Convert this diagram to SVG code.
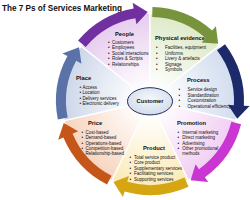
<svg xmlns="http://www.w3.org/2000/svg" xmlns:xlink="http://www.w3.org/1999/xlink" width="250" height="200" viewBox="0 0 250 200">
<style>
.t{font-family:"Liberation Sans",Arial,sans-serif;fill:#111}
.h{font-size:5.8px;font-weight:bold}
.b{font-size:4.5px}
.sec{stroke:#fff;stroke-width:1.3}
</style>
<defs>
<path id="wedge" d="M0 0 L88 0 A88 88 0 0 1 54.87 68.80 Z"/>
<path id="arr" d="M93.97 2.46 A94 94 0 0 1 70.51 62.16 L74.76 65.91 L57.21 68.18 L58.51 51.58 L63.01 55.55 A84 84 0 0 0 83.97 2.20 Z"/>
<radialGradient id="gPe" cx="0" cy="0" r="88" gradientUnits="userSpaceOnUse"><stop offset="0.15" stop-color="#fff"/><stop offset="1" stop-color="#e6cbee"/></radialGradient>
<radialGradient id="gPh" cx="0" cy="0" r="88" gradientUnits="userSpaceOnUse"><stop offset="0.15" stop-color="#fff"/><stop offset="1" stop-color="#dde9c7"/></radialGradient>
<radialGradient id="gPr" cx="0" cy="0" r="88" gradientUnits="userSpaceOnUse"><stop offset="0.15" stop-color="#fff"/><stop offset="1" stop-color="#d1dcee"/></radialGradient>
<radialGradient id="gPm" cx="0" cy="0" r="88" gradientUnits="userSpaceOnUse"><stop offset="0.15" stop-color="#fff"/><stop offset="1" stop-color="#f1cef3"/></radialGradient>
<radialGradient id="gPd" cx="0" cy="0" r="88" gradientUnits="userSpaceOnUse"><stop offset="0.15" stop-color="#fff"/><stop offset="1" stop-color="#fbe9b6"/></radialGradient>
<radialGradient id="gPc" cx="0" cy="0" r="88" gradientUnits="userSpaceOnUse"><stop offset="0.15" stop-color="#fff"/><stop offset="1" stop-color="#f7d3bc"/></radialGradient>
<radialGradient id="gPl" cx="0" cy="0" r="88" gradientUnits="userSpaceOnUse"><stop offset="0.15" stop-color="#fff"/><stop offset="1" stop-color="#ccd6e9"/></radialGradient>
<radialGradient id="gCu" cx="0.5" cy="0.4" r="0.6"><stop offset="0" stop-color="#f4f7fb"/><stop offset="1" stop-color="#d3dcec"/></radialGradient>
</defs>
<rect width="250" height="200" fill="#fff"/>
<text class="t" x="2" y="10.8" font-size="8.6" font-weight="bold" textLength="120" lengthAdjust="spacingAndGlyphs">The 7 Ps of Services Marketing</text>

<g id="people">
<use xlink:href="#wedge" class="sec" fill="url(#gPe)" transform="translate(150 101) rotate(-141.43)"/>
<text class="t h" x="115" y="35.5">People</text>
<text class="t b"><tspan x="108" y="44">•</tspan><tspan x="108" y="49.4">•</tspan><tspan x="108" y="54.8">•</tspan><tspan x="108" y="60.2">•</tspan><tspan x="108" y="65.6">•</tspan></text>
<text class="t b"><tspan x="112" y="44">Customers</tspan><tspan x="112" y="49.4">Employees</tspan><tspan x="112" y="54.8">Social interactions</tspan><tspan x="112" y="60.2">Roles &amp; Scripts</tspan><tspan x="112" y="65.6">Relationships</tspan></text>
</g>

<g id="physical-evidence">
<use xlink:href="#wedge" class="sec" fill="url(#gPh)" transform="translate(150 101) rotate(-90)"/>
<text class="t h" x="155" y="40">Physical evidence</text>
<text class="t b"><tspan x="156" y="49.4">•</tspan><tspan x="156" y="54.9">•</tspan><tspan x="156" y="60.4">•</tspan><tspan x="156" y="65.9">•</tspan><tspan x="156" y="71.4">•</tspan></text>
<text class="t b"><tspan x="165" y="49.4">Facilities, equipment</tspan><tspan x="165" y="54.9">Uniforms</tspan><tspan x="165" y="60.4">Livery &amp; artefacts</tspan><tspan x="165" y="65.9">Signage</tspan><tspan x="165" y="71.4">Symbols</tspan></text>
</g>

<g id="process">
<use xlink:href="#wedge" class="sec" fill="url(#gPr)" transform="translate(150 101) rotate(-38.57)"/>
<text class="t h" x="187" y="82">Process</text>
<text class="t b"><tspan x="178.5" y="91">•</tspan><tspan x="178.5" y="96.6">•</tspan><tspan x="178.5" y="102.3">•</tspan><tspan x="178.5" y="108">•</tspan></text>
<text class="t b"><tspan x="187.5" y="91">Service design</tspan><tspan x="187.5" y="96.6">Standardization</tspan><tspan x="187.5" y="102.3">Customization</tspan><tspan x="187.5" y="108">Operational efficiency</tspan></text>
</g>

<g id="promotion">
<use xlink:href="#wedge" class="sec" fill="url(#gPm)" transform="translate(150 101) rotate(12.86)"/>
<text class="t h" x="177" y="124.5">Promotion</text>
<text class="t b"><tspan x="177.5" y="134">•</tspan><tspan x="177.5" y="139.3">•</tspan><tspan x="177.5" y="144.6">•</tspan><tspan x="177.5" y="149.9">•</tspan></text>
<text class="t b"><tspan x="182.3" y="134">Internal marketing</tspan><tspan x="182.3" y="139.3">Direct marketing</tspan><tspan x="182.3" y="144.6">Advertising</tspan><tspan x="182.3" y="149.9">Other promotional</tspan><tspan x="182.3" y="155">methods</tspan></text>
</g>

<g id="product">
<use xlink:href="#wedge" class="sec" fill="url(#gPd)" transform="translate(150 101) rotate(64.29)"/>
<text class="t h" x="143" y="149.6">Product</text>
<text class="t b"><tspan x="129.5" y="158.6">•</tspan><tspan x="129.5" y="164">•</tspan><tspan x="129.5" y="169.6">•</tspan><tspan x="129.5" y="175">•</tspan><tspan x="129.5" y="180.6">•</tspan></text>
<text class="t b"><tspan x="134" y="158.6">Total service product</tspan><tspan x="134" y="164">Core product</tspan><tspan x="134" y="169.6">Supplementary services</tspan><tspan x="134" y="175">Facilitating services</tspan><tspan x="134" y="180.6">Supporting services</tspan></text>
</g>

<g id="price">
<use xlink:href="#wedge" class="sec" fill="url(#gPc)" transform="translate(150 101) rotate(115.71)"/>
<text class="t h" x="88" y="124.8">Price</text>
<text class="t b"><tspan x="81.5" y="134">•</tspan><tspan x="81.5" y="139.2">•</tspan><tspan x="81.5" y="144.5">•</tspan><tspan x="81.5" y="149.7">•</tspan><tspan x="81.5" y="155">•</tspan></text>
<text class="t b"><tspan x="85.5" y="134">Cost-based</tspan><tspan x="85.5" y="139.2">Demand-based</tspan><tspan x="85.5" y="144.5">Operations-based</tspan><tspan x="85.5" y="149.7">Competition-based</tspan><tspan x="85.5" y="155">Relationship-based</tspan></text>
</g>

<g id="place">
<use xlink:href="#wedge" class="sec" fill="url(#gPl)" transform="translate(150 101) rotate(167.14)"/>
<text class="t h" x="76" y="79.5">Place</text>
<text class="t b"><tspan x="79.5" y="89">•</tspan><tspan x="79.5" y="94.3">•</tspan><tspan x="79.5" y="99.8">•</tspan><tspan x="79.5" y="105">•</tspan></text>
<text class="t b"><tspan x="82.5" y="89">Access</tspan><tspan x="82.5" y="94.3">Location</tspan><tspan x="82.5" y="99.8">Delivery services</tspan><tspan x="82.5" y="105">Electronic delivery</tspan></text>
</g>

<g id="connectors">
<use xlink:href="#arr" fill="#7030a0" transform="translate(150 101) rotate(-141.43)"/>
<use xlink:href="#arr" fill="#77933c" transform="translate(150 101) rotate(-90)"/>
<use xlink:href="#arr" fill="#1c2a6b" transform="translate(150 101) rotate(-38.57)"/>
<use xlink:href="#arr" fill="#c936d2" transform="translate(150 101) rotate(12.86)"/>
<use xlink:href="#arr" fill="#d5a512" transform="translate(150 101) rotate(64.29)"/>
<use xlink:href="#arr" fill="#c4561a" transform="translate(150 101) rotate(115.71)"/>
<use xlink:href="#arr" fill="#5a72a8" transform="translate(150 101) rotate(167.14)"/>
</g>

<g id="customer">
<ellipse cx="150" cy="101.3" rx="22.5" ry="13.6" fill="url(#gCu)" stroke="#1f2d5a" stroke-width="1"/>
<text class="t h" x="150" y="103.3" text-anchor="middle">Customer</text>
</g>
</svg>
